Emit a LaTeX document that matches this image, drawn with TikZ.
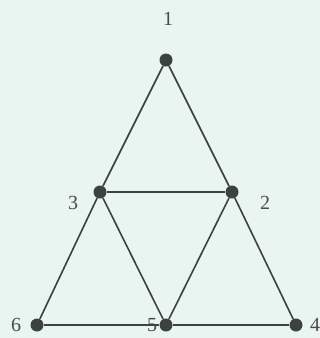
\documentclass[tikz,border=0pt]{standalone}
\usepackage{fontspec}
\setmainfont{Liberation Serif}
\definecolor{bg}{HTML}{E9F5F1}
\definecolor{ink}{HTML}{3C423F}
\definecolor{lab}{HTML}{4A4A4A}
\begin{document}
\begin{tikzpicture}[x=1pt,y=-1pt,
  vtx/.style={circle,fill=ink,inner sep=0pt,minimum size=13pt},
  edge/.style={draw=ink,line width=1.6pt},
  lbl/.style={text=lab,font=\fontsize{20}{20}\selectfont,inner sep=0pt}]
\fill[bg] (0,0) rectangle (320,338);
\useasboundingbox (0,0) rectangle (320,338);
\node[vtx] (v1) at (166,60) {};
\node[vtx] (v3) at (100,192) {};
\node[vtx] (v2) at (232,192) {};
\node[vtx] (v6) at (37,325) {};
\node[vtx] (v5) at (166,325) {};
\node[vtx] (v4) at (296,325) {};
\draw[edge] (v1) -- (v3);
\draw[edge] (v1) -- (v2);
\draw[edge] (v3) -- (v2);
\draw[edge] (v3) -- (v6);
\draw[edge] (v3) -- (v5);
\draw[edge] (v2) -- (v5);
\draw[edge] (v2) -- (v4);
\draw[edge] (v6) -- (v5);
\draw[edge] (v5) -- (v4);
\node[lbl] (l1) at (168,19) {1};
\node[lbl] (l3) at (73,203) {3};
\node[lbl] (l2) at (265,203) {2};
\node[lbl] (l6) at (16,325) {6};
\node[lbl] (l5) at (152,325) {5};
\node[lbl] (l4) at (315,325) {4};
\end{tikzpicture}
\end{document}
